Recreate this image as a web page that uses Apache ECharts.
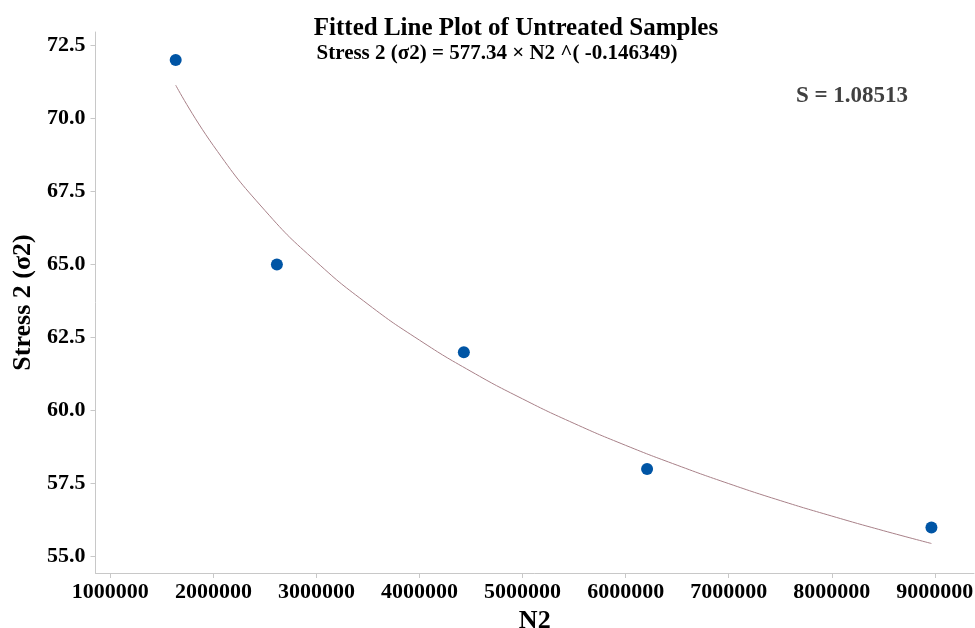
<!DOCTYPE html>
<html><head><meta charset="utf-8">
<script src="https://cdn.jsdelivr.net/npm/echarts@6/dist/echarts.min.js"></script>
<style>html,body{margin:0;padding:0;background:#fff}#c{width:975px;height:628px}</style>
</head><body><div id="c"></div>
<script>
const titleText = 'Fitted Line Plot of Untreated Samples';
const equationText = 'Stress 2 (σ2) = 577.34 × N2 ^( -0.146349)';
const statText = 'S = 1.08513';
const xName = 'N2';
const yName = 'Stress 2 (σ2)';
const sampleN2 = [1634000, 2616000, 4430000, 6208000, 8967000];
const sampleStress = [72, 65, 62, 58, 56];
const fitN2 = [1634000, 2000000, 2500000, 3000000, 3500000, 4000000, 4500000, 5000000, 5500000, 6000000, 6500000, 7000000, 7500000, 8000000, 8500000, 8967000];
const fitStress = [71.14, 69.07, 66.85, 65.09, 63.64, 62.41, 61.34, 60.40, 59.56, 58.81, 58.13, 57.50, 56.92, 56.39, 55.89, 55.45];
const xTicks = [1000000, 2000000, 3000000, 4000000, 5000000, 6000000, 7000000, 8000000, 9000000];
const yTicks = [55.0, 57.5, 60.0, 62.5, 65.0, 67.5, 70.0, 72.5];

const font = '"Liberation Serif", "Times New Roman", serif';
const chart = echarts.init(document.getElementById('c'));
chart.setOption({
  animation: false,
  title: [
    {text: titleText, left: 511, top: 11, textAlign: 'center',
     textStyle: {fontFamily: font, fontWeight: 'bold', fontSize: 25, color: '#000'}},
    {text: equationText, left: 492, top: 38, textAlign: 'center',
     textStyle: {fontFamily: font, fontWeight: 'bold', fontSize: 21, color: '#000'}},
    {text: statText, left: 847, top: 80, textAlign: 'center',
     textStyle: {fontFamily: font, fontWeight: 'bold', fontSize: 23, color: '#404040'}}
  ],
  grid: {left: 95.5, top: 32, right: 1, bottom: 55, containLabel: false, outerBoundsMode: 'none'},
  xAxis: {
    type: 'value', min: 856000, max: 9380000,
    name: xName, nameLocation: 'middle', nameGap: 31,
    nameTextStyle: {fontFamily: font, fontWeight: 'bold', fontSize: 26, color: '#000'},
    axisLine: {show: true, lineStyle: {color: '#c8c8c8', width: 1}},
    axisTick: {show: true, length: 5, lineStyle: {color: '#c8c8c8'}, customValues: xTicks},
    axisLabel: {fontFamily: font, fontWeight: 'bold', fontSize: 22, color: '#000', margin: 8, customValues: xTicks,
      formatter: v => String(Math.round(v))},
    splitLine: {show: false}
  },
  yAxis: {
    type: 'value', min: 54.44, max: 72.96,
    name: yName, nameLocation: 'middle', nameGap: 57,
    nameTextStyle: {fontFamily: font, fontWeight: 'bold', fontSize: 26, color: '#000'},
    axisLine: {show: true, lineStyle: {color: '#c8c8c8', width: 1}},
    axisTick: {show: true, length: 5, lineStyle: {color: '#c8c8c8'}, customValues: yTicks},
    axisLabel: {fontFamily: font, fontWeight: 'bold', fontSize: 22, color: '#000', margin: 10, customValues: yTicks,
      formatter: v => v.toFixed(1)},
    splitLine: {show: false}
  },
  series: [
    {type: 'line', data: fitN2.map((x, i) => [x, fitStress[i]]), smooth: true, showSymbol: false,
     lineStyle: {color: '#a88088', width: 1}, z: 2},
    {type: 'scatter', data: sampleN2.map((x, i) => [x, sampleStress[i]]), symbolSize: 12,
     itemStyle: {color: '#0055a5', opacity: 1}, z: 3}
  ]
});
</script></body></html>
